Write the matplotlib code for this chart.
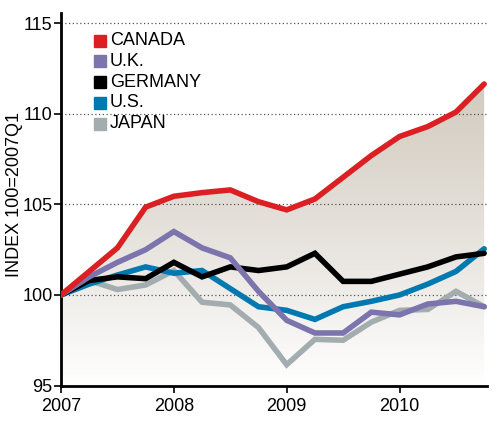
import numpy as np
import matplotlib
matplotlib.use('Agg')
import matplotlib.pyplot as plt
from matplotlib.colors import LinearSegmentedColormap
from matplotlib.patches import Rectangle

plt.rcParams['font.family'] = ['Liberation Sans', 'DejaVu Sans']

# quarterly index, 2007Q1 .. 2010Q4
quarters = 2007 + np.arange(16) / 4.0
canada = [100.0, 101.3, 102.6, 104.85, 105.45, 105.65, 105.8, 105.15, 104.7, 105.3,
          106.5, 107.7, 108.75, 109.3, 110.1, 111.65]
uk = [100.0, 101.0, 101.8, 102.5, 103.5, 102.6, 102.05, 100.2, 98.6, 97.9,
      97.9, 99.05, 98.9, 99.5, 99.65, 99.35]
germany = [100.0, 100.8, 101.0, 100.9, 101.8, 101.0, 101.55, 101.35, 101.55, 102.3,
           100.75, 100.75, 101.15, 101.55, 102.1, 102.3]
us = [100.0, 100.6, 101.1, 101.55, 101.2, 101.35, 100.35, 99.35, 99.15, 98.65,
      99.35, 99.65, 100.0, 100.6, 101.3, 102.55]
japan = [100.0, 100.8, 100.3, 100.55, 101.35, 99.6, 99.45, 98.2, 96.15, 97.55,
         97.5, 98.5, 99.15, 99.2, 100.2, 99.35]

names = ['CANADA', 'U.K.', 'GERMANY', 'U.S.', 'JAPAN']
series = [canada, uk, germany, us, japan]
colors = ['#dc1f22', '#7b74ad', '#000000', '#0079b0', '#a3adaf']

fig = plt.figure(figsize=(5, 4.24), dpi=100)
ax = fig.add_axes([0.122, 0.0908, 0.852, 0.8785])
ax.set_xlim(2007, 2010.775)
ax.set_ylim(95, 115.57)

# gradient fill under Canada
cmap = LinearSegmentedColormap.from_list('g', ['#ffffff', '#e6e2dc', '#d2cbbf'])
grad = np.linspace(0, 1, 256).reshape(-1, 1)
im = ax.imshow(grad, cmap=cmap, aspect='auto', origin='lower',
               extent=[2007, 2010.75, 95, max(canada)], zorder=1)
poly = ax.fill_between(quarters, canada, 95, color='none', lw=0)
clip = poly.get_paths()[0]
im.set_clip_path(clip, transform=ax.transData)

for y in [100, 105, 110, 115]:
    ax.axhline(y, color='#555555', lw=0.9, ls=(0, (1, 2)), zorder=2)

for vals, c in zip(series[::-1], colors[::-1]):
    ax.plot(quarters, vals, color=c, lw=4, zorder=3, solid_joinstyle='miter',
            solid_capstyle='round')

# legend
for i, (n, c) in enumerate(zip(names, colors)):
    yl = 0.926 - i * 0.0558
    ax.add_patch(Rectangle((0.0775, yl - 0.016), 0.028, 0.032, transform=ax.transAxes,
                           color=c, zorder=4))
    ax.text(0.115, yl, n, transform=ax.transAxes, fontsize=13, va='center',
            ha='left', zorder=4)

ax.set_xticks([2007, 2008, 2009, 2010])
ax.set_xticklabels(['2007', '2008', '2009', '2010'])
ax.set_yticks([95, 100, 105, 110, 115])
ax.tick_params(axis='both', labelsize=13, width=1.2, length=5, direction='out')
ax.tick_params(axis='y', pad=1)
ax.tick_params(axis='x', pad=4)
ax.set_ylabel('INDEX 100=2007Q1', fontsize=13)
ax.yaxis.set_label_coords(-0.09, 0.514)

for s in ['top', 'right']:
    ax.spines[s].set_visible(False)
for s in ['left', 'bottom']:
    ax.spines[s].set_linewidth(2)

fig.savefig('out.png', dpi=100)
